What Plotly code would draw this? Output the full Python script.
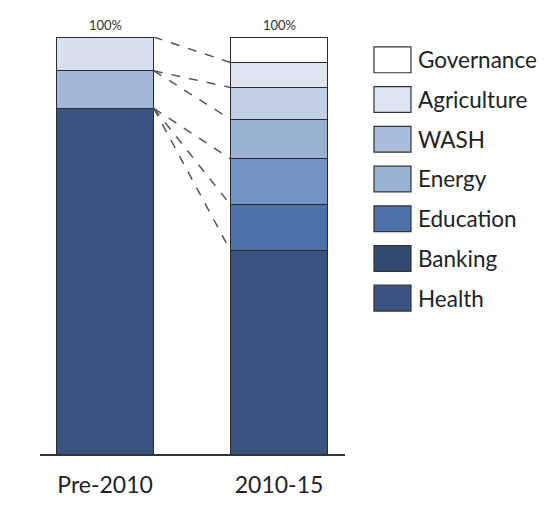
import plotly.graph_objects as go
import numpy as np

periods = ["Pre-2010", "2010-15"]
categories = ["Health", "Banking", "Education", "Energy", "WASH", "Agriculture", "Governance"]
pre_2010 = [82.9, 0, 0, 0, 9.0, 8.1, 0]
p2010_15 = [48.8, 11.0, 11.0, 9.5, 7.6, 6.0, 6.1]
totals = ["100%", "100%"]
colors = {
    "Health": "#3b5381",
    "Banking": "#34496f",
    "Education": "#4d72aa",
    "Energy": "#9bb1d4",
    "WASH": "#a9bcdb",
    "Agriculture": "#dfe5f0",
    "Governance": "#ffffff",
}
pre_colors = {"WASH": "#a3b6d6", "Agriculture": "#d8e0ed"}
post_colors = {"Education": "#7594c6", "Banking": "#4d72aa", "WASH": "#c3cfe4", "Energy": "#9bb1d4"}
# connectors: (top of category in Pre-2010, top of category in 2010-15)
connectors = [("Agriculture", "Agriculture"), ("WASH", "WASH"), ("WASH", "Energy"),
              ("Health", "Education"), ("Health", "Banking"), ("Health", "Health")]

xpos = [0, 1]
W = 0.56
fig = go.Figure()
for i, c in enumerate(categories):
    fig.add_trace(go.Bar(
        x=xpos, y=[pre_2010[i], p2010_15[i]], name=c, width=W,
        marker=dict(color=[pre_colors.get(c, colors[c]), post_colors.get(c, colors[c])],
                    line=dict(color="#2a2a2a", width=1)),
        showlegend=False, hoverinfo="skip"))

pre_cum = dict(zip(categories, np.cumsum(pre_2010)))
post_cum = dict(zip(categories, np.cumsum(p2010_15)))
for a, b in connectors:
    fig.add_shape(type="line", x0=xpos[0] + W / 2, x1=xpos[1] - W / 2,
                  y0=pre_cum[a], y1=post_cum[b], xref="x", yref="y",
                  line=dict(color="#555555", width=1.5, dash="dash"))

for x, t, tot in zip(xpos, totals, [sum(pre_2010), sum(p2010_15)]):
    fig.add_annotation(x=x, y=tot, text=t, showarrow=False, yanchor="bottom", yshift=2,
                       font=dict(size=13, color="#333333"))

# custom legend
leg_cats = categories[::-1]
for k, c in enumerate(leg_cats):
    y_top = 1.0 - (47 - 37 + k * 40) / 420
    y_bot = y_top - 26 / 420
    fig.add_shape(type="rect", xref="paper", yref="paper",
                  x0=(374 - 40) / 305, x1=(411 - 40) / 305, y0=y_bot, y1=y_top,
                  fillcolor=colors[c], line=dict(color="#333333", width=1.2))
    fig.add_annotation(xref="paper", yref="paper", x=(416 - 40) / 305, y=(y_top + y_bot) / 2,
                       text=c, showarrow=False, xanchor="left", yanchor="middle",
                       font=dict(size=22.5, color="#222222", family="Lato"))

fig.update_layout(
    width=543, height=502, margin=dict(l=32, r=206, t=29, b=53),
    paper_bgcolor="white", plot_bgcolor="white", barmode="stack",
    font=dict(family="Lato", color="#222222"),
    xaxis=dict(range=[-0.374, 1.379], tickvals=xpos, ticktext=periods, showgrid=False,
               zeroline=False, showline=True, linecolor="#333333", linewidth=1.5,
               ticks="", tickfont=dict(size=23, color="#222222"), ticklabelstandoff=10),
    yaxis=dict(range=[0, 100], visible=False),
)
fig.write_html("out.html")
